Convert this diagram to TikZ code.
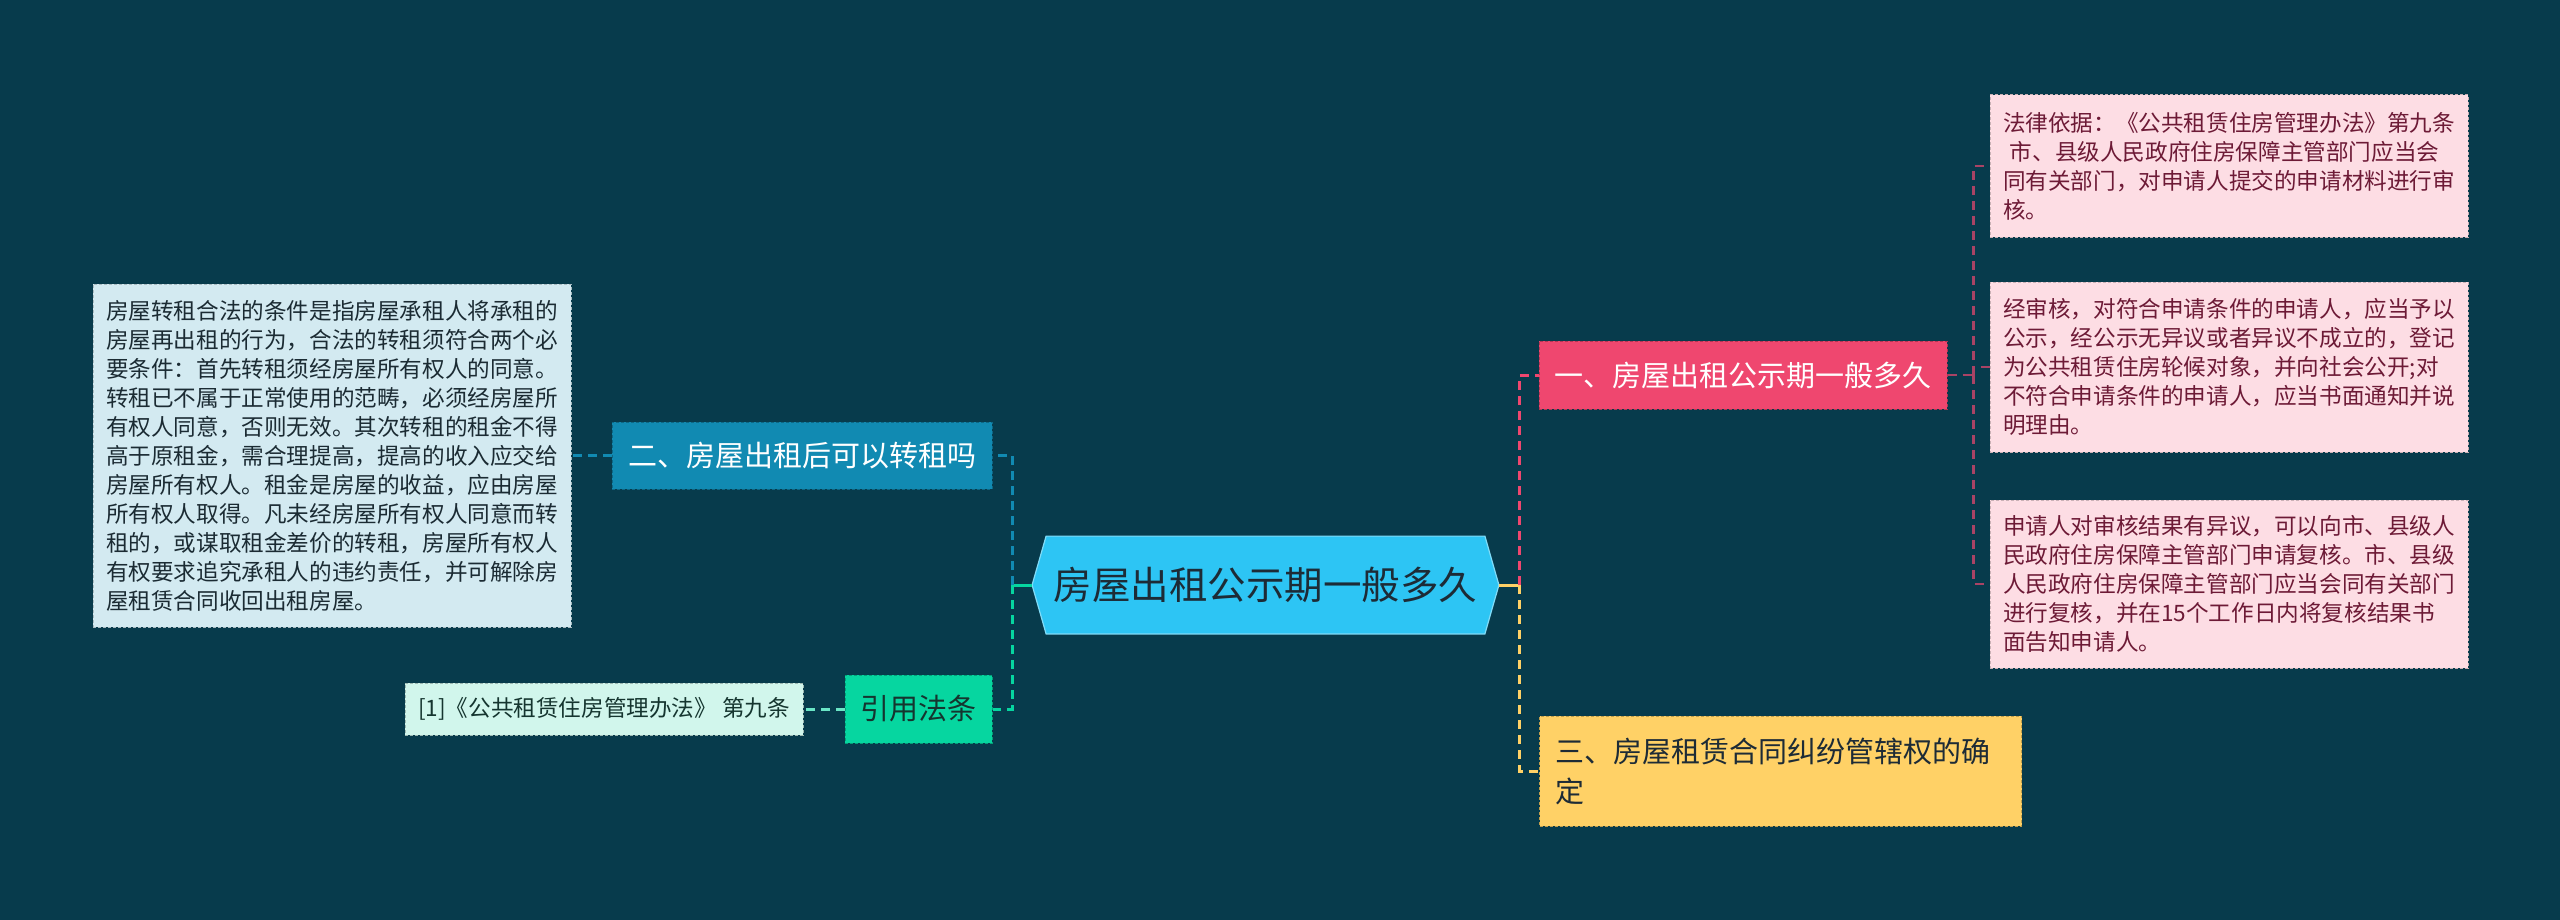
\documentclass[tikz,border=0pt]{standalone}
\usepackage{fontspec}
\setmainfont{Noto Sans CJK SC}
\usepackage{xcolor}
\usepackage{tikz}
\usetikzlibrary{positioning,calc,backgrounds}

\definecolor{navy}{HTML}{073B4C}
\definecolor{hubfill}{HTML}{2DC5F4}
\definecolor{seablue}{HTML}{118AB2}
\definecolor{mintgreen}{HTML}{06D6A0}
\definecolor{rosered}{HTML}{EF476F}
\definecolor{sunyellow}{HTML}{FFD166}
\definecolor{blushfill}{HTML}{FDDDE4}
\definecolor{blushink}{HTML}{6D1A36}
\definecolor{icefill}{HTML}{D3EAF1}
\definecolor{iceink}{HTML}{1B2B33}
\definecolor{reffill}{HTML}{D1F6EC}
\definecolor{refink}{HTML}{15352F}
\definecolor{darkink}{HTML}{1D2B36}

\begin{document}
\begin{tikzpicture}[
  x=0.5pt, y=-0.5pt,
  topic/.style = {draw=#1!75!black, fill=#1, dash pattern=on 1.5pt off 1pt,
                  line width=0.5pt, inner sep=0pt, align=center,
                  font=\fontsize{14.5}{20}\selectfont},
  note/.style  = {draw=#1!80!black, fill=#1, dash pattern=on 1.5pt off 1pt,
                  line width=0.5pt, text width=226pt, align=left,
                  inner xsep=6.5pt, inner ysep=0pt,
                  font=\fontsize{11.3}{14.5}\selectfont},
  link/.style  = {draw=#1, line width=1.5pt, dash pattern=on 4.5pt off 3pt},
  stub/.style  = {draw=#1, line width=1.5pt},
]

%% ── CANVAS ──────────────────────────────────────────────────────────────
\begin{scope}[on background layer]
  \fill[navy] (0,0) rectangle (2560,920);
\end{scope}

%% ── HUB ─────────────────────────────────────────────────────────────────
\node[minimum width=219pt, minimum height=48.5pt, inner sep=0pt,
      text=darkink, font=\fontsize{19.25}{24}\selectfont]
      (hub) at (1265.5,585) {房屋出租公示期一般多久};
\coordinate (hub-w) at ($(hub.west)+(-14,0)$);
\coordinate (hub-e) at ($(hub.east)+(14,0)$);

%% ── LEFT BRANCHES ───────────────────────────────────────────────────────
\node[topic=seablue, text=white, minimum width=190pt, minimum height=33.5pt]
      (q-two) at (802,455.5) {二、房屋出租后可以转租吗};
\node[note=icefill, text=iceink, minimum height=171.5pt, left=20pt of q-two]
      (sublet) {房屋转租合法的条件是指房屋承租人将承租的\\
                房屋再出租的行为，合法的转租须符合两个必\\
                要条件：首先转租须经房屋所有权人的同意。\\
                转租已不属于正常使用的范畴，必须经房屋所\\
                有权人同意，否则无效。其次转租的租金不得\\
                高于原租金，需合理提高，提高的收入应交给\\
                房屋所有权人。租金是房屋的收益，应由房屋\\
                所有权人取得。凡未经房屋所有权人同意而转\\
                租的，或谋取租金差价的转租，房屋所有权人\\
                有权要求追究承租人的违约责任，并可解除房\\
                屋租赁合同收回出租房屋。};
\node[topic=mintgreen, text=refink, minimum width=73.5pt, minimum height=34pt]
      (cite) at (918.5,709) {引用法条};
\node[draw=reffill!75!black, fill=reffill, dash pattern=on 1.5pt off 1pt,
      line width=0.5pt, text=refink, minimum width=199pt, minimum height=26pt,
      inner sep=0pt, font=\fontsize{11.3}{14.5}\selectfont,
      left=20.5pt of cite]
      (ref) {[1]《公共租赁住房管理办法》 第九条};

%% ── RIGHT BRANCHES ──────────────────────────────────────────────────────
\node[topic=rosered, text=white, minimum width=204pt, minimum height=34pt]
      (q-one) at (1743,375) {一、房屋出租公示期一般多久};
\node[topic=sunyellow, text=darkink, text width=225pt, align=left,
      inner xsep=8pt, minimum height=55pt]
      (q-three) at (1780.5,771) {三、房屋租赁合同纠纷管辖权的确\\定};

%% ── LEAVES OF 一 ─────────────────────────────────────────────────────────
\node[note=blushfill, text=blushink, minimum height=71pt]
      (law) at (2229,166) {法律依据：《公共租赁住房管理办法》第九条\\
                \hspace*{0.3em}市、县级人民政府住房保障主管部门应当会\\
                同有关部门，对申请人提交的申请材料进行审\\
                核。};
\node[note=blushfill, text=blushink, minimum height=85pt]
      (review) at (2229,367) {经审核，对符合申请条件的申请人，应当予以\\
                公示，经公示无异议或者异议不成立的，登记\\
                为公共租赁住房轮候对象，并向社会公开;对\\
                不符合申请条件的申请人，应当书面通知并说\\
                明理由。};
\node[note=blushfill, text=blushink, minimum height=84pt]
      (appeal) at (2229,584) {申请人对审核结果有异议，可以向市、县级人\\
                民政府住房保障主管部门申请复核。市、县级\\
                人民政府住房保障主管部门应当会同有关部门\\
                进行复核，并在15个工作日内将复核结果书\\
                面告知申请人。};

%% ── HUB SHAPE ───────────────────────────────────────────────────────────
\begin{scope}[on background layer]
  \filldraw[fill=hubfill, draw=hubfill!60!white, line width=0.6pt]
    (hub-w) -- (hub.north west) -- (hub.north east) -- (hub-e)
    -- (hub.south east) -- (hub.south west) -- cycle;
\end{scope}

%% ── CONNECTORS ──────────────────────────────────────────────────────────
\coordinate (fork-l)  at ($(hub-w)+(-20,0)$);
\coordinate (fork-r)  at ($(hub-e)+(21,0)$);
\coordinate (fork-q1) at ($(q-one.east)+(26,0)$);

\draw[stub=mintgreen] (hub-w) -- (fork-l);
\draw[link=seablue]   (fork-l) |- (q-two.east);
\draw[link=mintgreen] (fork-l) |- (cite.east);
\draw[link=seablue]   (q-two.west) -- (sublet.east);
\draw[link=mintgreen!60!white] (cite.west) -- (ref.east);

\draw[stub=sunyellow] (hub-e) -- (fork-r);
\draw[link=rosered]   (fork-r) |- (q-one.west);
\draw[link=sunyellow] (fork-r) |- (q-three.west);

\draw[link=rosered!70!navy, line width=1.2pt] (q-one.east) -- (fork-q1);
\foreach \leaf in {law,review,appeal}
  \draw[link=rosered!70!navy, line width=1.2pt] (fork-q1) |- (\leaf.west);

\end{tikzpicture}
\end{document}
